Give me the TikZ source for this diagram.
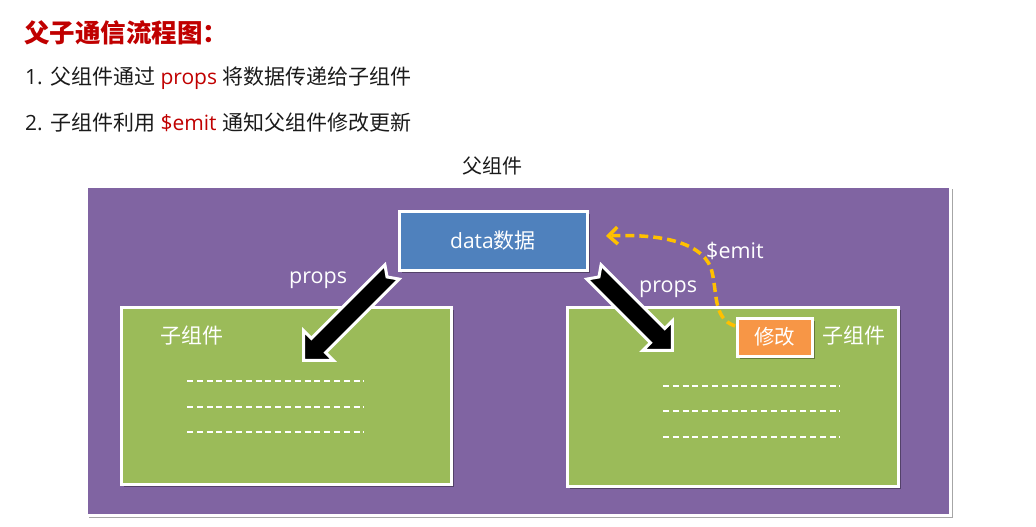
\documentclass[tikz,border=0pt]{standalone}
\usepackage{fontspec}
\setmainfont{Open Sans}
\newfontfamily\cjk{Noto Sans CJK SC}
\usetikzlibrary{arrows.meta,shadows}
\definecolor{purp}{HTML}{8064A2}
\definecolor{grn}{HTML}{9BBB59}
\definecolor{blu}{HTML}{4F81BD}
\definecolor{orng}{HTML}{F79646}
\definecolor{gold}{HTML}{FFC000}
\definecolor{ttred}{HTML}{C00000}
\definecolor{txt}{HTML}{1A1A1A}
\begin{document}
\begin{tikzpicture}[x=1pt,y=-1pt,
  lbl/.style={inner sep=0pt,anchor=west,text=white,font=\fontsize{21.5}{24}\selectfont},
  clbl/.style={inner sep=0pt,anchor=west,text=white,font=\cjk\fontsize{21}{24}\selectfont},
  body/.style={inner sep=0pt,anchor=west,text=txt,font=\fontsize{21}{25}\selectfont},
  box/.style={draw=white,line width=3pt,inner sep=0pt},
  shad/.style={drop shadow={shadow xshift=2.5pt,shadow yshift=-2.5pt,opacity=0.35,fill=black}},
  dashln/.style={draw=white,line width=1.6pt,dash pattern=on 6pt off 3.8pt},
  blockarr/.style={fill=black,draw=white,line width=3pt,line join=miter},
  emitarr/.style={draw=gold,line width=3.5pt,dash pattern=on 9pt off 5pt,
    -{Straight Barb[length=9pt,width=17pt,line width=3.5pt]}}
]
\useasboundingbox (0,0) rectangle (1036,527);

% title and list
\node[inner sep=0pt,anchor=west,text=ttred,font=\cjk\bfseries\fontsize{25.5}{30}\selectfont] (title) at (24,33) {父子通信流程图：};
\node[body] (l1) at (25,78) {1. {\cjk 父组件通过} \textcolor{ttred}{props} {\cjk 将数据传递给子组件}};
\node[body] (l2) at (25,123) {2. {\cjk 子组件利用} \textcolor{ttred}{\$emit} {\cjk 通知父组件修改更新}};

\node[inner sep=0pt,text=txt,font=\cjk\fontsize{20}{24}\selectfont] (plabel) at (492,166) {父组件};

% parent
\node[box,shad,fill=purp,minimum width=864pt,minimum height=329pt] (parent) at (518,350.5) {};

% children
\node[box,shad,fill=grn,minimum width=330pt,minimum height=177pt] (left) at (286,395.5) {};
\node[box,shad,fill=grn,minimum width=331pt,minimum height=179pt] (right) at (732.5,396.5) {};

% data box
\node[box,shad,fill=blu,minimum width=188pt,minimum height=59pt,text=white,
      font=\fontsize{21}{24}\selectfont] (data) at (493,240.5) {data{\cjk 数据}};

% modify box
\node[box,shad,fill=orng,minimum width=75pt,minimum height=38pt,text=white,
      font=\cjk\fontsize{20.5}{24}\selectfont] (mod) at (774.5,337) {修改};

% labels
\node[clbl] (lc) at (160,336) {子组件};
\node[clbl] (rc) at (822,336) {子组件};
\node[lbl] (lp) at (289,280) {props};
\node[lbl] (rp) at (639,289) {props};
\node[lbl] (em) at (706,251) {\$emit};

% dashed content lines
\foreach \yy [count=\i] in {381,407,432} {
  \coordinate (la\i) at (187,\yy); \coordinate (lb\i) at (364,\yy);
  \draw[dashln] (la\i) -- (lb\i);
}
\foreach \yy [count=\i] in {386,411,437} {
  \coordinate (ra\i) at (663,\yy); \coordinate (rb\i) at (840,\yy);
  \draw[dashln] (ra\i) -- (rb\i);
}

% block arrows
\coordinate (ltail) at (392,272);
\coordinate (rtail) at (594,272);
\begin{scope}[shift={(ltail)},rotate=225]
  \draw[blockarr] (0,10) -- (104,10) -- (104,21) -- (125,0) -- (104,-21) -- (104,-10) -- (0,-10) -- (7,0) -- cycle;
\end{scope}
\begin{scope}[shift={(rtail)},rotate=-45]
  \draw[blockarr] (0,10) -- (90,10) -- (90,21) -- (111,0) -- (90,-21) -- (90,-10) -- (0,-10) -- (7,0) -- cycle;
\end{scope}

% emit arrow
\coordinate (emS) at (735,326);
\coordinate (emE) at (606,236);
\draw[emitarr] (emS) .. controls (712,318) and (718,292) .. (711,268)
  .. controls (700,240) and (655,234) .. (emE);
\end{tikzpicture}
\end{document}
